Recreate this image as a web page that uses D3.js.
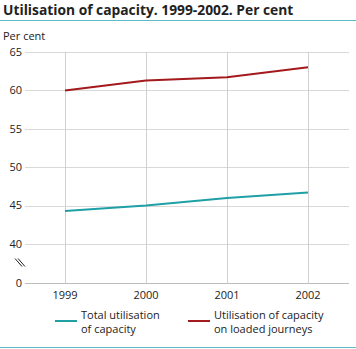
<!DOCTYPE html>
<html>
<head>
<meta charset="utf-8">
<script src="https://cdn.jsdelivr.net/npm/d3@7"></script>
<style>
  body { margin: 0; background: #fff; }
  text { font-family: "Open Sans", "DejaVu Sans", sans-serif; fill: #222; }
</style>
</head>
<body>
<div id="chart"></div>
<script>
const years = [1999, 2000, 2001, 2002];
const totalUtilisation = [44.3, 45.0, 46.0, 46.7];
const loadedUtilisation = [60.0, 61.3, 61.7, 63.0];
const yTicks = [0, 40, 45, 50, 55, 60, 65];
const seriesNames = [["Total utilisation", "of capacity"], ["Utilisation of capacity", "on loaded journeys"]];
const seriesColors = ["#1f9fa6", "#a3191c"];

const W = 356, H = 349;
const margin = {top: 52, right: 7, bottom: 66, left: 25};
const width = W - margin.left - margin.right;

const svg = d3.select("#chart").append("svg")
  .attr("width", W)
  .attr("height", H);

// title and rules
svg.append("text")
  .attr("x", 3).attr("y", 15)
  .style("font-size", "13.8px")
  .style("font-weight", "bold")
  .text("Utilisation of capacity. 1999-2002. Per cent");

svg.append("line")
  .attr("x1", 0).attr("x2", W)
  .attr("y1", 20.5).attr("y2", 20.5)
  .attr("stroke", "#5bbcc4").attr("stroke-width", 1);

svg.append("line")
  .attr("x1", 0).attr("x2", W)
  .attr("y1", 347.5).attr("y2", 347.5)
  .attr("stroke", "#5bbcc4").attr("stroke-width", 1);

svg.append("text")
  .attr("x", 3).attr("y", 40)
  .style("font-size", "11px")
  .text("Per cent");

const g = svg.append("g")
  .attr("transform", "translate(" + margin.left + "," + margin.top + ")");

const xScale = d3.scalePoint().domain(years).range([40, 283]);
// broken axis: 0 sits just below 40
const yScale = d3.scaleLinear().domain([0, 40, 65]).range([231, 192, 0]);

// horizontal gridlines
g.selectAll(".hgrid")
  .data(yTicks.filter(d => d > 0))
  .join("line")
  .attr("class", "hgrid")
  .attr("x1", 0).attr("x2", width)
  .attr("y1", d => Math.round(yScale(d)) + 0.5)
  .attr("y2", d => Math.round(yScale(d)) + 0.5)
  .attr("stroke", "#d9d9d9");

// vertical gridlines
g.selectAll(".vgrid")
  .data(years)
  .join("line")
  .attr("class", "vgrid")
  .attr("x1", d => Math.round(xScale(d)) + 0.5)
  .attr("x2", d => Math.round(xScale(d)) + 0.5)
  .attr("y1", 0).attr("y2", yScale(0))
  .attr("stroke", "#d0d0d0");

// baseline
g.append("line")
  .attr("x1", 0).attr("x2", width)
  .attr("y1", Math.round(yScale(0)) + 0.5).attr("y2", Math.round(yScale(0)) + 0.5)
  .attr("stroke", "#bdbdbd");

// y tick labels
g.selectAll(".ylab")
  .data(yTicks)
  .join("text")
  .attr("class", "ylab")
  .attr("x", -3)
  .attr("y", d => yScale(d))
  .attr("dy", "0.35em")
  .attr("text-anchor", "end")
  .style("font-size", "11px")
  .text(d => d);

// axis break marks
const breakY = (yScale(0) + yScale(40)) / 2;
[-2, 1].forEach(off => {
  g.append("line")
    .attr("x1", -8 + off).attr("y1", breakY - 5)
    .attr("x2", -1 + off).attr("y2", breakY + 3)
    .attr("stroke", "#222").attr("stroke-width", 1);
});

// x tick labels
g.selectAll(".xlab")
  .data(years)
  .join("text")
  .attr("class", "xlab")
  .attr("x", d => xScale(d))
  .attr("y", yScale(0) + 16)
  .attr("text-anchor", "middle")
  .style("font-size", "11px")
  .text(d => d);

// lines
const line = d3.line()
  .x((d, i) => xScale(years[i]))
  .y(d => yScale(d));

[totalUtilisation, loadedUtilisation].forEach((vals, i) => {
  g.append("path")
    .datum(vals)
    .attr("fill", "none")
    .attr("stroke", seriesColors[i])
    .attr("stroke-width", 2)
    .attr("d", line);
});

// legend
const legendX = [55, 188];
seriesNames.forEach((lines, i) => {
  const lg = svg.append("g").attr("transform", "translate(" + legendX[i] + ",0)");
  lg.append("line")
    .attr("x1", 0).attr("x2", 22)
    .attr("y1", 321).attr("y2", 321)
    .attr("stroke", seriesColors[i]).attr("stroke-width", 2);
  lines.forEach((t, j) => {
    lg.append("text")
      .attr("x", 26)
      .attr("y", 319 + j * 14)
      .style("font-size", "11px")
      .text(t);
  });
});
</script>
</body>
</html>
